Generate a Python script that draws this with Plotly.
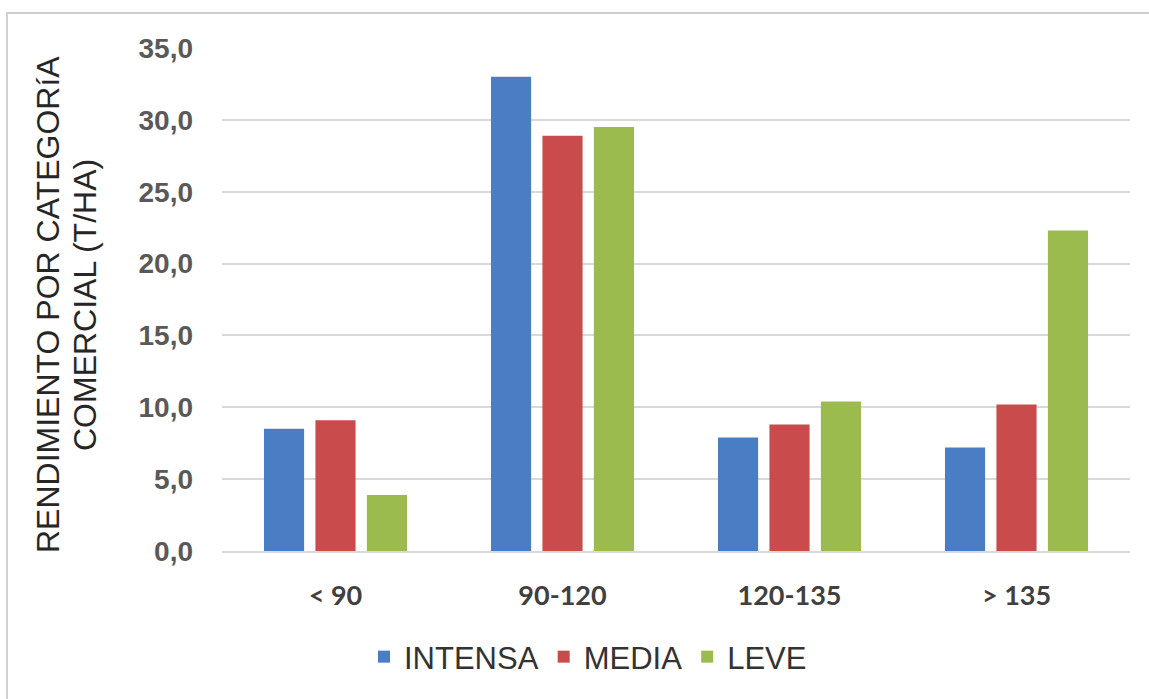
import plotly.graph_objects as go

categories = ["< 90", "90-120", "120-135", "> 135"]
intensa = [8.5, 33.0, 7.9, 7.2]
media = [9.1, 28.9, 8.8, 10.2]
leve = [3.9, 29.5, 10.4, 22.3]
series_names = ["INTENSA", "MEDIA", "LEVE"]
y_ticks = [0, 5, 10, 15, 20, 25, 30, 35]

colors = ["#4A7EC4", "#C94B4B", "#9BBB4E"]

fig = go.Figure()
for name, vals, col in zip(series_names, [intensa, media, leve], colors):
    fig.add_trace(go.Bar(x=categories, y=vals, name=name, marker=dict(color=col, line=dict(width=0))))

W, H = 1149, 699
L, R, T, B = 222, 19, 48, 148
pw, ph = W - L - R, H - T - B

def px_x(p):
    return (p - L) / pw

def px_y(p):
    return (H - B - p) / ph

fig.update_layout(
    width=W, height=H,
    margin=dict(l=L, r=R, t=T, b=B),
    paper_bgcolor="white", plot_bgcolor="white",
    separators=",.",
    barmode="group", bargap=0.32, bargroupgap=0.22,
    showlegend=True,
    legend=dict(
        orientation="h", x=px_x(588), y=px_y(657), xanchor="center", yanchor="middle",
        font=dict(family="Liberation Sans, Arial", size=31, color="#333333"),
        itemwidth=30, traceorder="normal",
    ),
    font=dict(family="Liberation Sans, Arial"),
)

fig.update_yaxes(
    range=[0, 35], tickvals=y_ticks, tickformat=".1f",
    showgrid=True, gridcolor="#D9D9D9", gridwidth=1.5,
    zeroline=False, showline=False,
    tickfont=dict(family="Liberation Sans, Arial", size=28, color="#595959", weight="bold"),
    ticklabelstandoff=28,
)
fig.update_xaxes(
    showline=True, linecolor="#D9D9D9", linewidth=1.5,
    tickfont=dict(family="Lato, Open Sans", size=27, color="#404040", weight="bold"),
    ticklabelstandoff=20,
)

# two-line rotated axis title
for text, cx in [("RENDIMIENTO POR CATEGORíA", 48), ("COMERCIAL (T/HA)", 85)]:
    fig.add_annotation(
        text=text, xref="paper", yref="paper", x=px_x(cx), y=px_y(305),
        xanchor="center", yanchor="middle", textangle=-90, showarrow=False,
        font=dict(family="Liberation Sans, Arial", size=32, color="#262626"),
    )

# chart frame
fig.add_shape(
    type="rect", xref="paper", yref="paper",
    x0=px_x(7), x1=px_x(1170), y0=px_y(720), y1=px_y(13),
    line=dict(color="#D0D0D0", width=2), fillcolor="rgba(0,0,0,0)", layer="below",
)

fig.write_html("out.html")
